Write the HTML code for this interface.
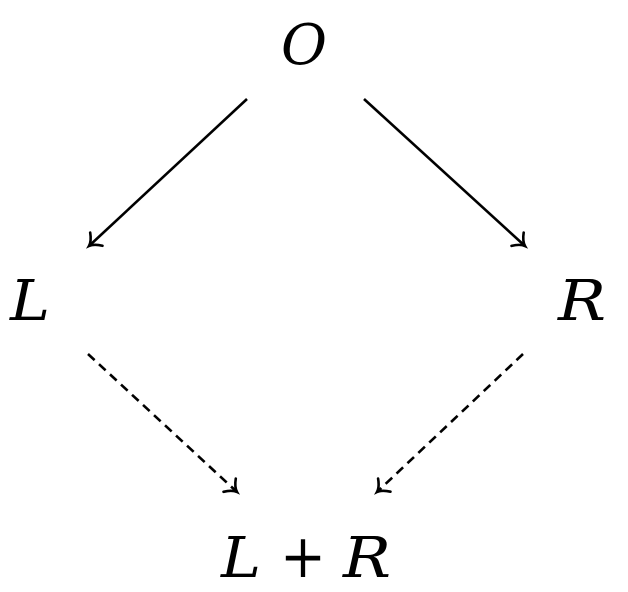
<!DOCTYPE html>
<html><head><style>
html,body{margin:0;padding:0;background:#fff;}
svg{display:block;}
text{font-family:"DejaVu Serif","Liberation Serif",serif;font-style:italic;font-size:56px;fill:#000;}
</style></head><body>
<svg width="628" height="592" viewBox="0 0 628 592">
<defs>
<marker id="a" markerUnits="userSpaceOnUse" markerWidth="30" markerHeight="30" refX="0" refY="0" viewBox="-15 -15 30 30" orient="auto" overflow="visible">
<path d="M-10,-9 C-6,-3 -3,-1 0,0 C-3,1 -6,3 -10,9" fill="none" stroke="#000" stroke-width="2.6" stroke-linecap="round"/>
</marker>
</defs>
<g stroke="#000" stroke-width="2.6" fill="none">
<line x1="247" y1="99" x2="89" y2="246" marker-end="url(#a)"/>
<line x1="364" y1="99" x2="525" y2="246" marker-end="url(#a)"/>
<line x1="88" y1="354" x2="237" y2="492" stroke-dasharray="9,6" marker-end="url(#a)"/>
<line x1="523" y1="354" x2="377" y2="492" stroke-dasharray="9,6" marker-end="url(#a)"/>
</g>
<text x="281" y="64" textLength="46" lengthAdjust="spacingAndGlyphs">O</text>
<text x="10" y="320" textLength="40" lengthAdjust="spacingAndGlyphs">L</text>
<text x="558" y="320" textLength="48" lengthAdjust="spacingAndGlyphs">R</text>
<text x="221" y="577" textLength="40" lengthAdjust="spacingAndGlyphs">L</text>
<text x="280" y="577" style="font-style:normal;font-size:60px" textLength="46" lengthAdjust="spacingAndGlyphs">+</text>
<text x="343" y="577" textLength="48" lengthAdjust="spacingAndGlyphs">R</text>
</svg>
</body></html>
